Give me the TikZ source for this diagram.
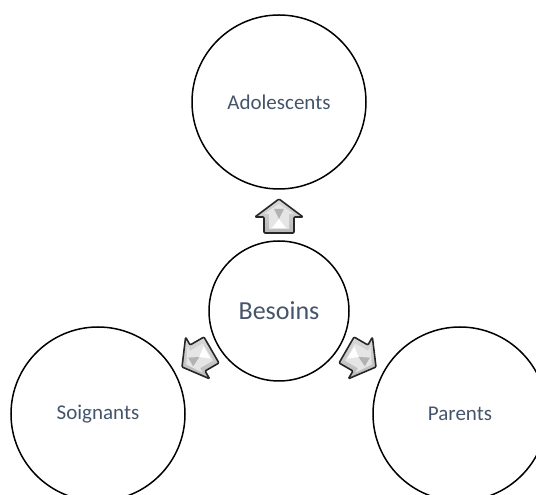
\documentclass[tikz,border=0pt]{standalone}
\usepackage{fontspec}
\setmainfont{Carlito}
\begin{document}
\begin{tikzpicture}[x=1pt,y=1pt,
  txtcol/.style={text=labelblue},
  bigcircle/.style={circle,draw=black,line width=1.5pt,minimum size=174pt,inner sep=0pt,font=\fontsize{21}{24}\selectfont,text=labelblue},
  midcircle/.style={circle,draw=black,line width=1.5pt,minimum size=140pt,inner sep=0pt,font=\fontsize{26}{30}\selectfont,text=labelblue},
  arrowbody/.style={draw=black!85,line width=1.6pt,line join=round,top color=gray!30,bottom color=gray!55},
  arrowinner/.style={fill=gray!20,draw=none},
  arrowlight/.style={fill=white,draw=none},
  arrowdark/.style={fill=gray!60,draw=none}
]
\definecolor{labelblue}{HTML}{44546A}
\useasboundingbox (0,0) rectangle (536,495);
\clip (0,0) rectangle (536,495);

\node[midcircle] (bes) at (279,184) {Besoins};
\node[bigcircle] (ado) at (279,393) {Adolescents};
\node[bigcircle] (soi) at (98,81) {Soignants};
\node[bigcircle] (par) at (460,81) {Parents};

\foreach \ang/\nm in {90/aup,210/aleft,330/aright}{
  \begin{scope}[shift={(bes.center)},rotate=\ang-90,shift={(0,95)}]
    \coordinate (\nm) at (0,0);
    \path[arrowbody,rounded corners=1pt]
      (0,17) -- (24,-1) -- (15,-1) -- (15,-17) -- (-15,-17) -- (-15,-1) -- (-24,-1) -- cycle;
    \path[arrowinner]
      (0,12) -- (15,2) -- (10,2) -- (10,-13) -- (-10,-13) -- (-10,2) -- (-15,2) -- cycle;
    \path[arrowdark] (-5,7) -- (5,7) -- (0,-3) -- cycle;
    \path[arrowlight] (-7,-12) -- (7,-12) -- (0,-3) -- cycle;
  \end{scope}
}
\end{tikzpicture}
\end{document}
